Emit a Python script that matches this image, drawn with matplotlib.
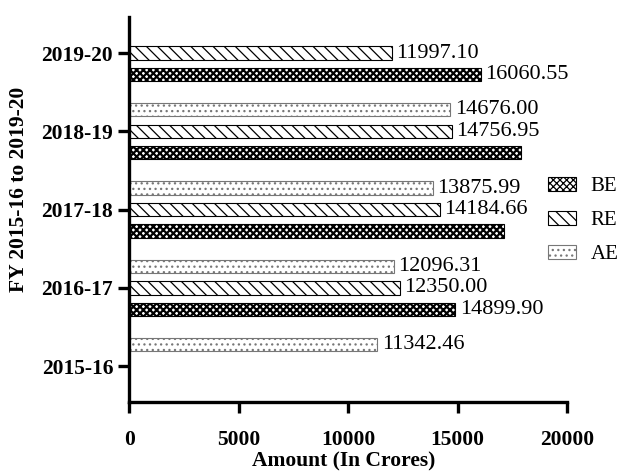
import matplotlib
matplotlib.use("Agg")
import matplotlib.pyplot as plt
import numpy as np
from matplotlib.patches import Patch

years = ["2015-16", "2016-17", "2017-18", "2018-19", "2019-20"]
be = [np.nan, 14899.90, 17120, 17900, 16060.55]
re = [np.nan, 12350.00, 14184.66, 14756.95, 11997.10]
ae = [11342.46, 12096.31, 13875.99, 14676.00, np.nan]
be_labels = [None, "14899.90", None, None, "16060.55"]
re_labels = [None, "12350.00", "14184.66", "14756.95", "11997.10"]
ae_labels = ["11342.46", "12096.31", "13875.99", "14676.00", None]

plt.rcParams['font.family'] = 'Liberation Serif'
plt.rcParams['hatch.linewidth'] = 0.9

fig = plt.figure(figsize=(6.21, 4.72), dpi=100)
ax = fig.add_axes([0.208, 0.148, 0.705, 0.816])

y = np.arange(len(years))
off = 0.275
h = 0.17
series = [
    (be, be_labels, -off, "xxxxx", "black", 1.6, "BE"),
    (re, re_labels, 0, "\\\\\\", "black", 0.9, "RE"),
    (ae, ae_labels, off, "...", "#777777", 0.9, "AE"),
]
handles = []
for vals, labs, dy, hatch, ec, hlw, name in series:
    v = np.array(vals, dtype=float)
    ok = ~np.isnan(v)
    bars = ax.barh(y[ok] + dy, v[ok], height=h, color="white", edgecolor=ec,
                   hatch=hatch, linewidth=0.8)
    for b in bars:
        if hasattr(b, "set_hatch_linewidth"):
            b.set_hatch_linewidth(hlw)
    for yi, val, lab in zip(y, v, labs):
        if lab is not None:
            ax.text(val + 200, yi + dy, lab, va="center", ha="left", fontsize=16)
    p = Patch(facecolor="white", edgecolor=ec, hatch=hatch, linewidth=0.8, label=name)
    if hasattr(p, "set_hatch_linewidth"):
        p.set_hatch_linewidth(hlw)
    handles.append(p)

ax.set_xlim(0, 20000)
ax.set_ylim(-0.46, 4.46)
ax.set_xticks([0, 5000, 10000, 15000, 20000])
ax.set_yticks(y)
ax.set_yticklabels(years)
for lab in ax.get_xticklabels() + ax.get_yticklabels():
    lab.set_fontweight("bold")
    lab.set_fontsize(15.5)
ax.tick_params(width=2.4, length=8)
ax.tick_params(axis="x", pad=12)
ax.tick_params(axis="y", pad=3.5)
for s in ["top", "right"]:
    ax.spines[s].set_visible(False)
for s in ["left", "bottom"]:
    ax.spines[s].set_linewidth(2.4)

fig.text(0.554, 0.022, "Amount (In Crores)", fontsize=15.5, fontweight="bold",
         ha="center", va="center")
fig.text(0.031, 0.598, "FY 2015-16 to 2019-20", fontsize=15.5, fontweight="bold",
         rotation=90, ha="center", va="center")

fig.legend(handles=handles, loc="center left", bbox_to_anchor=(0.882, 0.532),
           frameon=False, fontsize=15, handlelength=1.35, handleheight=0.6,
           labelspacing=0.72, handletextpad=0.7, borderpad=0, borderaxespad=0)

plt.savefig("out.png", dpi=100)
